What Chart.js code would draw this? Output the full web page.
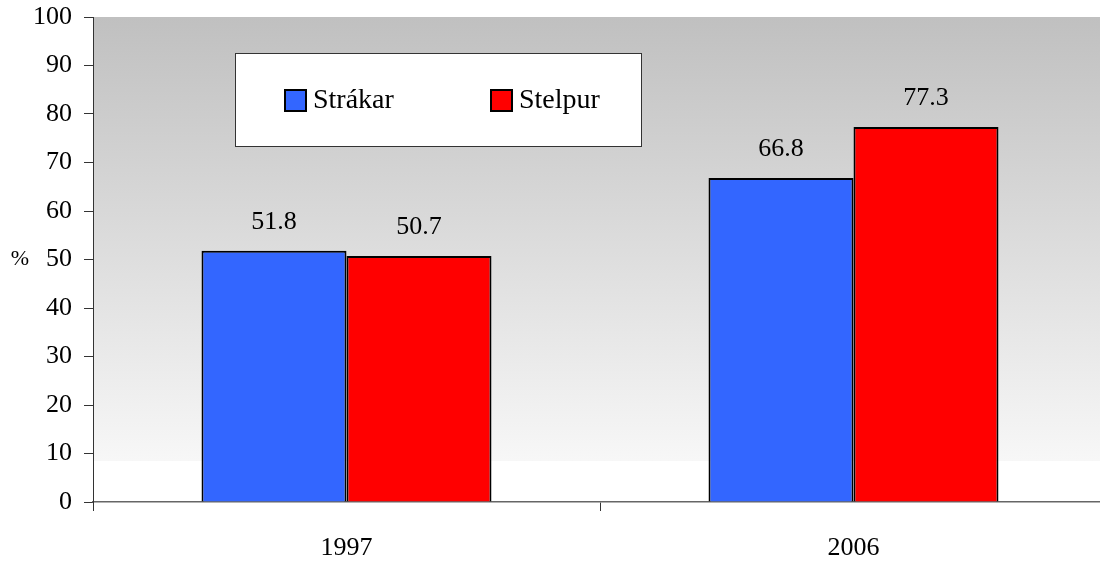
<!DOCTYPE html>
<html>
<head>
<meta charset="utf-8">
<script src="https://cdn.jsdelivr.net/npm/chart.js@4"></script>
<style>
  html, body { margin: 0; padding: 0; background: #fff; }
  #wrap { width: 1100px; height: 562px; overflow: hidden; position: relative; }
  canvas { display: block; }
</style>
</head>
<body>
<div id="wrap"><canvas id="c" width="1107" height="562"></canvas></div>
<script>
const categories = ['1997', '2006'];
const seriesNames = ['Strákar', 'Stelpur'];
const strakar = [51.8, 66.8];
const stelpur = [50.7, 77.3];
const seriesColors = ['#3366ff', '#ff0000'];
const yTicks = [0, 10, 20, 30, 40, 50, 60, 70, 80, 90, 100];
const yAxisLabel = '%';

const FONT = '"Liberation Serif", "Times New Roman", serif';

const bgPlugin = {
  id: 'bg',
  beforeDraw(chart) {
    const { ctx, chartArea: a } = chart;
    const g = ctx.createLinearGradient(0, a.top, 0, a.bottom);
    g.addColorStop(0, '#c0c0c0');
    g.addColorStop(0.915, '#f7f7f7');
    g.addColorStop(0.916, '#ffffff');
    g.addColorStop(1, '#ffffff');
    ctx.save();
    ctx.fillStyle = g;
    ctx.fillRect(a.left, a.top, a.right - a.left, a.bottom - a.top);
    ctx.restore();
  }
};

const labelPlugin = {
  id: 'labels',
  afterDatasetsDraw(chart) {
    const { ctx } = chart;
    ctx.save();
    ctx.font = '26px ' + FONT;
    ctx.fillStyle = '#000';
    ctx.textAlign = 'center';
    ctx.textBaseline = 'middle';
    chart.data.datasets.forEach((ds, i) => {
      const meta = chart.getDatasetMeta(i);
      meta.data.forEach((bar, j) => {
        ctx.fillText(ds.data[j].toFixed(1), bar.x, bar.y - 29);
      });
    });
    ctx.font = '22px ' + FONT;
    ctx.textAlign = 'center';
    ctx.fillText(yAxisLabel, 20, chart.scales.y.getPixelForValue(50));
    ctx.restore();
  },
  afterDraw(chart) {
    const { ctx } = chart;
    ctx.save();
    ctx.fillStyle = '#fff';
    ctx.fillRect(235.5, 53.5, 406, 93);
    ctx.strokeStyle = '#333';
    ctx.lineWidth = 1;
    ctx.strokeRect(235.5, 53.5, 406, 93);
    const items = [[285, 313], [491, 519]];
    ctx.font = '28px ' + FONT;
    ctx.textBaseline = 'middle';
    ctx.textAlign = 'left';
    chart.data.datasets.forEach((ds, i) => {
      const [sx, tx] = items[i];
      ctx.fillStyle = ds.backgroundColor;
      ctx.fillRect(sx, 90, 21, 21);
      ctx.strokeStyle = '#000';
      ctx.lineWidth = 2;
      ctx.strokeRect(sx, 90, 21, 21);
      ctx.fillStyle = '#000';
      ctx.fillText(ds.label, tx, 101);
    });
    ctx.restore();
  }
};

new Chart(document.getElementById('c'), {
  type: 'bar',
  data: {
    labels: categories,
    datasets: [
      { label: seriesNames[0], data: strakar, backgroundColor: seriesColors[0], borderColor: '#000', borderWidth: 2 },
      { label: seriesNames[1], data: stelpur, backgroundColor: seriesColors[1], borderColor: '#000', borderWidth: 2 }
    ]
  },
  options: {
    responsive: false,
    animation: false,
    devicePixelRatio: 1,
    layout: { padding: { top: 17, right: 0, left: 0, bottom: 0 } },
    datasets: { bar: { categoryPercentage: 0.572, barPercentage: 1 } },
    plugins: { legend: { display: false }, tooltip: { enabled: false } },
    scales: {
      x: {
        grid: { offset: true, drawOnChartArea: false, tickLength: 9, color: '#333', lineWidth: 1 },
        border: { color: '#666', width: 1.5 },
        ticks: { font: { family: FONT, size: 26 }, color: '#000', padding: 22 },
        afterFit(s) { s.height = 60; s.paddingLeft = 0; s.paddingRight = 0; }
      },
      y: {
        min: 0, max: 100,
        afterBuildTicks(s) { s.ticks = yTicks.map(v => ({ value: v })); },
        grid: { drawOnChartArea: false, tickLength: 9, color: '#333', lineWidth: 1 },
        border: { color: '#333', width: 1 },
        ticks: { font: { family: FONT, size: 26 }, color: '#000', padding: 12 },
        afterFit(s) { s.width = 93; s.paddingTop = 0; s.paddingBottom = 0; }
      }
    }
  },
  plugins: [bgPlugin, labelPlugin]
});
</script>
</body>
</html>
